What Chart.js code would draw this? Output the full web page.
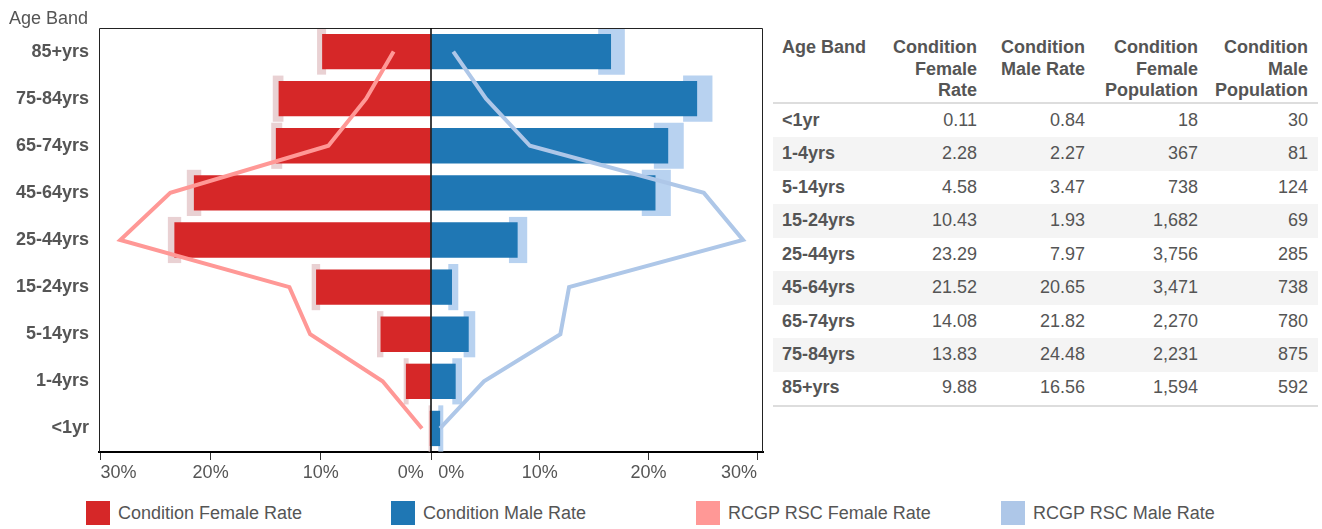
<!DOCTYPE html>
<html>
<head>
<meta charset="utf-8">
<script src="https://cdn.jsdelivr.net/npm/chart.js@4.4.0/dist/chart.umd.min.js"></script>
<style>
html,body{margin:0;padding:0;background:#fff;width:1322px;height:529px;overflow:hidden;font-family:"Liberation Sans",Arial,Helvetica,sans-serif;color:#555;}
#wrap{position:relative;width:1322px;height:529px;}
#c{position:absolute;left:0;top:0;}
#ytitle{position:absolute;left:9px;top:8px;font-size:18px;line-height:21.6px;color:#555;white-space:nowrap;}
#tbl{position:absolute;left:773px;top:37px;width:545px;border-collapse:collapse;table-layout:fixed;font-size:18px;line-height:21.6px;color:#555;}
#tbl th{font-weight:bold;vertical-align:top;text-align:right;padding:0 10px 0 5px;border-bottom:2px solid #ddd;}
#tbl td{text-align:right;padding:5.95px 10px 5.95px 5px;}
#tbl th:first-child,#tbl td:first-child{text-align:left;padding-left:9px;}
#tbl td:first-child{font-weight:bold;}
#tbl tbody tr:nth-child(even){background:#f4f4f4;}
#tbl tbody tr:last-child td{border-bottom:2px solid #ddd;}
#legend .lg{position:absolute;top:501px;height:24px;font-size:18px;line-height:24px;color:#555;white-space:nowrap;}
#legend .sw{display:inline-block;width:24px;height:24px;vertical-align:top;margin-right:8px;}
</style>
</head>
<body>
<div id="wrap">
  <canvas id="c" width="770" height="490"></canvas>
  <div id="ytitle">Age Band</div>
  <table id="tbl">
    <colgroup><col style="width:112px"><col style="width:102px"><col style="width:108px"><col style="width:113px"><col style="width:110px"></colgroup>
    <thead><tr id="thead"></tr></thead>
    <tbody id="tbody"></tbody>
  </table>
  <div id="legend"></div>
</div>
<script>
// ---- data (table order, youngest first) ----
const ageBands = ['<1yr', '1-4yrs', '5-14yrs', '15-24yrs', '25-44yrs', '45-64yrs', '65-74yrs', '75-84yrs', '85+yrs'];
const femaleRate = [0.11, 2.28, 4.58, 10.43, 23.29, 21.52, 14.08, 13.83, 9.88];
const maleRate = [0.84, 2.27, 3.47, 1.93, 7.97, 20.65, 21.82, 24.48, 16.56];
const femalePop = [18, 367, 738, 1682, 3756, 3471, 2270, 2231, 1594];
const malePop = [30, 81, 124, 69, 285, 738, 780, 875, 592];
const rcgpFemale = [0.82, 4.39, 10.97, 12.85, 28.2, 23.66, 9.31, 5.89, 3.39];
const rcgpMale = [0.83, 4.87, 11.9, 12.7, 28.7, 25.1, 9.1, 5.06, 2.05];
const femaleCILow = [0.03, 2.03, 4.32, 10.06, 22.67, 20.85, 13.5, 13.39, 9.52];
const femaleCIHigh = [0.22, 2.48, 4.9, 10.83, 23.88, 22.16, 14.5, 14.36, 10.34];
const maleCILow = [0.67, 1.96, 3.0, 1.59, 7.17, 19.39, 20.5, 23.19, 15.38];
const maleCIHigh = [1.13, 2.85, 4.07, 2.51, 8.85, 22.06, 23.25, 25.89, 17.83];
const xTickValues = [0, 10, 20, 30];
const tableHeaders = ['Age Band', 'Condition Female Rate', 'Condition Male Rate', 'Condition Female Population', 'Condition Male Population'];
const legendLabels = ['Condition Female Rate', 'Condition Male Rate', 'RCGP RSC Female Rate', 'RCGP RSC Male Rate'];
const legendColors = ['#d62728', '#1f77b4', '#ff9896', '#aec7e8'];

// ---- table ----
const thead = document.getElementById('thead');
tableHeaders.forEach(h => { const th = document.createElement('th'); th.textContent = h; thead.appendChild(th); });
const fmt2 = v => v.toFixed(2);
const fmtInt = v => v.toLocaleString('en-US');
const tbody = document.getElementById('tbody');
ageBands.forEach((b, i) => {
  const tr = document.createElement('tr');
  [b, fmt2(femaleRate[i]), fmt2(maleRate[i]), fmtInt(femalePop[i]), fmtInt(malePop[i])].forEach(t => {
    const td = document.createElement('td'); td.textContent = t; tr.appendChild(td);
  });
  tbody.appendChild(tr);
});

// ---- legend ----
const legend = document.getElementById('legend');
legendLabels.forEach((l, i) => {
  const d = document.createElement('div');
  d.className = 'lg';
  d.style.left = (86 + i * 305) + 'px';
  const s = document.createElement('span'); s.className = 'sw'; s.style.background = legendColors[i];
  d.appendChild(s); d.appendChild(document.createTextNode(l));
  legend.appendChild(d);
});

// ---- chart ----
const frame = {
  id: 'frame',
  afterDatasetsDraw(chart) {
    const {ctx, chartArea: a} = chart;
    const cx = Math.round(chart.scales.xf.getPixelForValue(0));
    ctx.save();
    ctx.strokeStyle = '#222';
    ctx.lineWidth = 1;
    ctx.beginPath();
    ctx.moveTo(a.left + 0.5, a.bottom);
    ctx.lineTo(a.left + 0.5, a.top + 0.5);
    ctx.lineTo(a.right - 0.5, a.top + 0.5);
    ctx.lineTo(a.right - 0.5, a.bottom);
    ctx.stroke();
    ctx.strokeStyle = '#000';
    ctx.lineWidth = 1.5;
    ctx.beginPath();
    ctx.moveTo(cx, a.top);
    ctx.lineTo(cx, a.bottom);
    ctx.stroke();
    ctx.restore();
  }
};

const THIN = '\u2009';
const xAxis = (max, reverse) => ({
  type: 'linear', axis: 'x', position: 'bottom', stack: 'pyr', stackWeight: 1,
  min: 0, max: max, reverse: reverse,
  afterBuildTicks: s => { s.ticks = xTickValues.map(v => ({value: v})); },
  afterFit: s => { s.height = 38; },
  grid: {display: true, drawOnChartArea: false, drawTicks: true, tickLength: 8, tickColor: '#333', tickWidth: 1},
  border: {display: true, color: '#000', width: 2},
  ticks: {
    align: 'inner', padding: 2, color: '#555', maxRotation: 0, autoSkip: false,
    font: {size: 18, family: '"Liberation Sans", Arial, sans-serif'},
    callback: v => v === 0 ? (reverse ? '0%' + THIN + THIN : THIN + THIN + '0%') : v + '%'
  }
});

new Chart(document.getElementById('c'), {
  type: 'bar',
  data: {
    labels: ageBands,
    datasets: [
      {label: 'RCGP RSC Female Rate', type: 'line', indexAxis: 'y', xAxisID: 'xf', yAxisID: 'y', data: rcgpFemale, borderColor: '#ff9896', backgroundColor: '#ff9896', borderWidth: 4, pointRadius: 0, tension: 0, fill: false, order: 0},
      {label: 'RCGP RSC Male Rate', type: 'line', indexAxis: 'y', xAxisID: 'xm', yAxisID: 'y', data: rcgpMale, borderColor: '#aec7e8', backgroundColor: '#aec7e8', borderWidth: 4, pointRadius: 0, tension: 0, fill: false, order: 0},
      {label: 'Condition Female Rate', indexAxis: 'y', xAxisID: 'xf', yAxisID: 'y', data: femaleRate, backgroundColor: '#d62728', grouped: false, categoryPercentage: 1, barPercentage: 0.75, order: 1},
      {label: 'Condition Male Rate', indexAxis: 'y', xAxisID: 'xm', yAxisID: 'y', data: maleRate, backgroundColor: '#1f77b4', grouped: false, categoryPercentage: 1, barPercentage: 0.75, order: 1},
      {label: 'Female CI', indexAxis: 'y', xAxisID: 'xf', yAxisID: 'y', data: femaleCILow.map((v, i) => [v, femaleCIHigh[i]]), backgroundColor: '#e9d1d3', grouped: false, categoryPercentage: 1, barPercentage: 0.98, order: 2},
      {label: 'Male CI', indexAxis: 'y', xAxisID: 'xm', yAxisID: 'y', data: maleCILow.map((v, i) => [v, maleCIHigh[i]]), backgroundColor: '#b8d2f0', grouped: false, categoryPercentage: 1, barPercentage: 0.98, order: 2}
    ]
  },
  options: {
    indexAxis: 'y',
    responsive: false,
    devicePixelRatio: 1,
    animation: false,
    layout: {padding: {left: 0, right: 7, top: 28, bottom: 0}},
    plugins: {legend: {display: false}, tooltip: {enabled: false}, title: {display: false}},
    scales: {
      y: {
        type: 'category', axis: 'y', position: 'left', reverse: true, offset: true,
        afterFit: s => { s.width = 99; },
        grid: {display: false, drawTicks: false},
        border: {display: false},
        ticks: {padding: 10, color: '#555', font: {size: 18, weight: 'bold', family: '"Liberation Sans", Arial, sans-serif'}}
      },
      xf: xAxis(30.13, true),
      xm: xAxis(30.54, false)
    }
  },
  plugins: [frame]
});
</script>
</body>
</html>
